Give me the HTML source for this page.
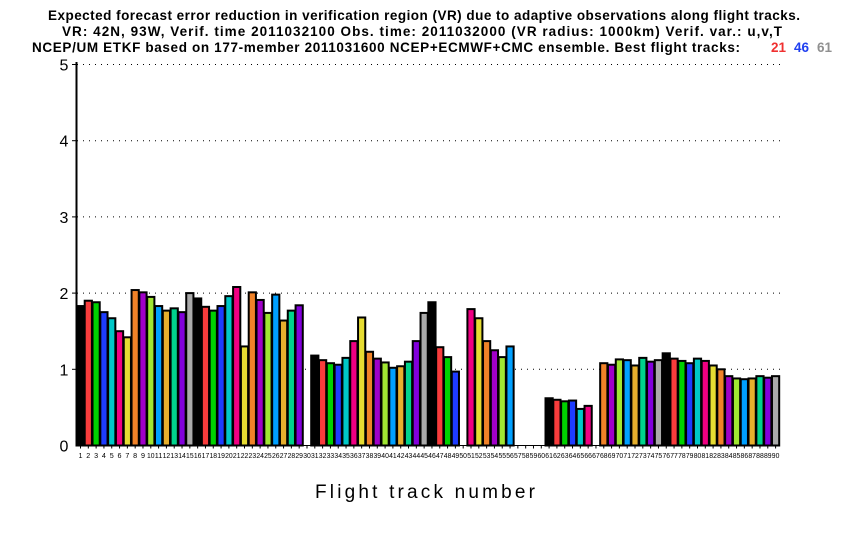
<!DOCTYPE html>
<html><head><meta charset="utf-8"><style>
html,body{margin:0;padding:0;background:#fff;width:850px;height:540px;overflow:hidden}
svg{display:block}
text{font-family:"Liberation Sans",sans-serif}
</style></head><body>
<svg id="s" width="850" height="540" xmlns="http://www.w3.org/2000/svg">
<text x="48" y="20" font-size="13.5" font-weight="bold" textLength="752" lengthAdjust="spacing">Expected forecast error reduction in verification region (VR) due to adaptive observations along flight tracks.</text>
<text x="62" y="36" font-size="13.5" font-weight="bold" textLength="720" lengthAdjust="spacing">VR: 42N, 93W, Verif. time 2011032100 Obs. time: 2011032000 (VR radius: 1000km)  Verif. var.: u,v,T</text>
<text x="32" y="52" font-size="13.5" font-weight="bold" textLength="708" lengthAdjust="spacing">NCEP/UM ETKF based on 177-member 2011031600 NCEP+ECMWF+CMC ensemble. Best flight tracks:</text>
<text x="771" y="52" font-size="13.5" font-weight="bold" fill="#f03030">21</text>
<text x="794" y="52" font-size="13.5" font-weight="bold" fill="#2040f0">46</text>
<text x="817" y="52" font-size="13.5" font-weight="bold" fill="#909090">61</text>
<text x="315" y="498" font-size="19" textLength="220" lengthAdjust="spacing">Flight track number</text>
<g id="g"></g>
</svg>
<script>
var v=[1.83,1.90,1.88,1.75,1.67,1.50,1.42,2.04,2.01,1.95,1.83,1.77,1.80,1.75,2.00,1.93,1.82,1.77,1.83,1.96,2.08,1.30,2.01,1.91,1.74,1.98,1.64,1.77,1.84,0,
1.18,1.12,1.08,1.06,1.15,1.37,1.68,1.23,1.14,1.09,1.02,1.04,1.10,1.37,1.74,1.88,1.29,1.16,0.97,0,
1.79,1.67,1.37,1.25,1.16,1.30,0,0,0,0,0.62,0.60,0.58,0.59,0.48,0.52,0,
1.08,1.06,1.13,1.12,1.05,1.15,1.10,1.12,1.21,1.14,1.11,1.08,1.14,1.11,1.05,1.00,0.91,0.88,0.87,0.88,0.91,0.89,0.91];
var c=["#000000","#f83c3c","#00d200","#1e3cff","#00c8c8","#f00082","#e6dc32","#f08228","#a000c8","#a0e632","#00a0ff","#e6af2d","#00d28c","#8200dc","#aaaaaa"];
var s="",y0=445.5,k=76.2;
for(var j=1;j<=5;j++){var y=y0-j*k;s+='<line x1="77" x2="782" y1="'+y+'" y2="'+y+'" stroke="#000" stroke-width="1" stroke-dasharray="1,5"/>';
s+='<line x1="72" x2="77" y1="'+y+'" y2="'+y+'" stroke="#000"/>';
s+='<text x="64" y="'+(y+6)+'" font-size="16" text-anchor="middle">'+j+'</text>';}
s+='<text x="64" y="'+(y0+6)+'" font-size="16" text-anchor="middle">0</text>';
for(var i=0;i<90;i++){var cx=80.5+i*7.81;var h=v[i]*k;
if(h>0)s+='<rect x="'+(cx-3.6)+'" y="'+(y0-h)+'" width="7.2" height="'+h+'" fill="'+c[i%15]+'" stroke="#000" stroke-width="2"/>';
s+='<line x1="'+cx+'" x2="'+cx+'" y1="'+y0+'" y2="'+(y0+3)+'" stroke="#000"/>';
s+='<text x="'+cx+'" y="458" font-size="7.5" text-anchor="middle" textLength="'+(i<9?4:7.6)+'" lengthAdjust="spacingAndGlyphs">'+(i+1)+'</text>';}
s+='<line x1="76.5" x2="76.5" y1="62" y2="'+(y0+1)+'" stroke="#000" stroke-width="2"/>';
s+='<line x1="76" x2="780" y1="'+y0+'" y2="'+y0+'" stroke="#000" stroke-width="1"/>';
document.getElementById("g").innerHTML=s;
</script>
</body></html>
